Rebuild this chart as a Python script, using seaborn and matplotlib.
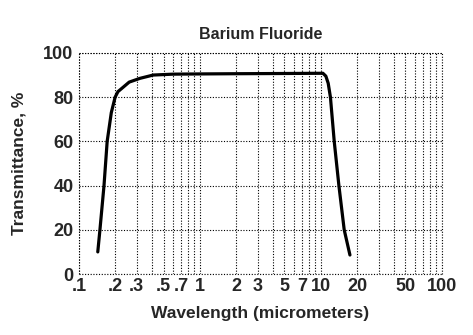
import matplotlib
matplotlib.use("Agg")
import matplotlib.pyplot as plt
import matplotlib.ticker as mticker
import matplotlib.transforms as mtrans
import seaborn as sns
import pandas as pd

wavelength = [0.143, 0.149, 0.161, 0.171, 0.185, 0.199, 0.21, 0.232, 0.26, 0.319, 0.411, 0.6, 1.0, 2.0, 5.0,
              10.4, 11.0, 11.5, 12.0, 12.9, 14.1, 15.6, 17.4]
transmittance = [10, 20, 40, 60, 73, 80, 82.5, 84.5, 86.8, 88.5, 90.0, 90.4, 90.5, 90.6, 90.7,
                 90.8, 89.5, 86.3, 80, 60, 40, 20, 8.6]
x_tick_values = [0.1, 0.2, 0.3, 0.5, 0.7, 1, 2, 3, 5, 7, 10, 20, 50, 100]
x_tick_labels = [".1", ".2", ".3", ".5", ".7", "1", "2", "3", "5", "7", "10", "20", "50", "100"]
y_tick_values = [0, 20, 40, 60, 80, 100]

df = pd.DataFrame({"wl": wavelength, "T": transmittance})

sns.set_style("white")
plt.rcParams["font.family"] = ["Liberation Sans", "DejaVu Sans"]
plt.rcParams["font.weight"] = "bold"

fig = plt.figure(figsize=(4.73, 3.35), dpi=100)
ax = fig.add_axes([0.167, 0.182, 0.767, 0.660])

sns.lineplot(data=df, x="wl", y="T", ax=ax, color="black", linewidth=2.3, sort=False)

ax.set_xscale("log")
ax.set_xlim(0.1, 100)
ax.set_ylim(0, 100)

ax.xaxis.set_major_locator(mticker.FixedLocator([0.1, 1, 10, 100]))
ax.xaxis.set_minor_locator(mticker.LogLocator(base=10, subs=range(2, 10), numticks=20))
ax.xaxis.set_major_formatter(mticker.NullFormatter())
ax.xaxis.set_minor_formatter(mticker.NullFormatter())
ax.set_yticks(y_tick_values)

grid_kw = dict(color="black", linestyle=(0, (1, 1.5)), linewidth=0.8)
ax.grid(True, which="major", axis="both", **grid_kw)
ax.grid(True, which="minor", axis="x", **grid_kw)
for s in ax.spines.values():
    s.set_visible(False)
ax.axhline(0, **grid_kw, clip_on=False)
ax.axhline(100, **grid_kw, clip_on=False)
ax.axvline(0.1, **grid_kw, clip_on=False)
ax.axvline(100, **grid_kw, clip_on=False)

ax.tick_params(axis="both", which="both", length=0, labelsize=13, pad=4)
for lab in ax.get_yticklabels():
    lab.set_fontweight("bold")

xt = ax.get_xaxis_transform() + mtrans.ScaledTranslation(0, -3 / 72, fig.dpi_scale_trans)
for v, lab in zip(x_tick_values, x_tick_labels):
    ax.text(v, 0, lab, transform=xt, ha="center", va="top", fontsize=13, fontweight="bold")

ax.set_xlabel("Wavelength (micrometers)", fontsize=12.5, fontweight="bold", labelpad=19)
ax.set_ylabel("Transmittance, %", fontsize=12.5, fontweight="bold", labelpad=12)
ax.set_title("Barium Fluoride", fontsize=11.5, fontweight="bold", pad=10)

fig.savefig("out.png", dpi=100)
